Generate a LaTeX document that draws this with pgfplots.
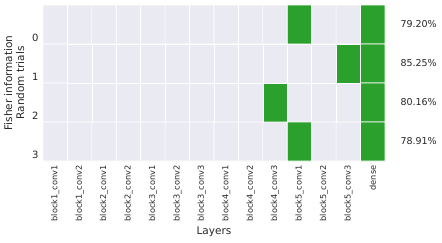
\documentclass[border=0pt]{standalone}
\usepackage{fontspec}
\setmainfont{DejaVu Sans}
\usepackage{pgfplots}
\pgfplotsset{compat=1.18}
\definecolor{cellbg}{RGB}{234,234,242}
\definecolor{cellgreen}{RGB}{44,160,44}
\begin{document}
\begin{tikzpicture}
\begin{axis}[
  name=ax, at={(0,0)}, anchor=south west,
  scale only axis, width=342pt, height=156pt,
  xmin=-0.5, xmax=13.5, ymin=-0.5, ymax=3.5,
  y dir=reverse,
  axis line style={draw=none},
  tick style={draw=none},
  /pgf/number format/assume math mode=true,
  xtick={0,...,13},
  xticklabels={block1\_conv1,block1\_conv2,block2\_conv1,block2\_conv2,block3\_conv1,block3\_conv2,block3\_conv3,block4\_conv1,block4\_conv2,block4\_conv3,block5\_conv1,block5\_conv2,block5\_conv3,dense},
  xticklabel style={rotate=90, anchor=east, font=\fontsize{8.2}{9}\selectfont, color=black!85, xshift=-1pt},
  ytick={0.33,1.33,2.33,3.33},
  yticklabels={0,1,2,3},
  yticklabel style={font=\fontsize{10}{12}\selectfont, color=black!85, xshift=-1pt},
  xlabel={Layers},
  ylabel={Fisher information\\Random trials},
  ylabel style={align=center, font=\fontsize{10.5}{12}\selectfont, color=black!85, yshift=1pt},
  xlabel style={font=\fontsize{10.5}{12}\selectfont, color=black!85, yshift=1pt},
  colormap={hm}{rgb255=(234,234,242) rgb255=(44,160,44)},
  point meta min=0, point meta max=1,
  clip=false,
]
\addplot[matrix plot*, mesh/cols=14, point meta=explicit, draw=white, line width=0.7pt] table[meta=c] {
x y c
0 0 0
1 0 0
2 0 0
3 0 0
4 0 0
5 0 0
6 0 0
7 0 0
8 0 0
9 0 0
10 0 1
11 0 0
12 0 0
13 0 1
0 1 0
1 1 0
2 1 0
3 1 0
4 1 0
5 1 0
6 1 0
7 1 0
8 1 0
9 1 0
10 1 0
11 1 0
12 1 1
13 1 1
0 2 0
1 2 0
2 2 0
3 2 0
4 2 0
5 2 0
6 2 0
7 2 0
8 2 0
9 2 1
10 2 0
11 2 0
12 2 0
13 2 1
0 3 0
1 3 0
2 3 0
3 3 0
4 3 0
5 3 0
6 3 0
7 3 0
8 3 0
9 3 0
10 3 1
11 3 0
12 3 0
13 3 1
};
\node[anchor=west, font=\fontsize{9.5}{11}\selectfont, color=black!85, xshift=12pt] at (axis cs:13.5,0) {79.20\%};
\node[anchor=west, font=\fontsize{9.5}{11}\selectfont, color=black!85, xshift=12pt] at (axis cs:13.5,1) {85.25\%};
\node[anchor=west, font=\fontsize{9.5}{11}\selectfont, color=black!85, xshift=12pt] at (axis cs:13.5,2) {80.16\%};
\node[anchor=west, font=\fontsize{9.5}{11}\selectfont, color=black!85, xshift=12pt] at (axis cs:13.5,3) {78.91\%};
\end{axis}
\pgfresetboundingbox
\path (-43pt,-81pt) rectangle (399pt,161pt);
\end{tikzpicture}
\end{document}
